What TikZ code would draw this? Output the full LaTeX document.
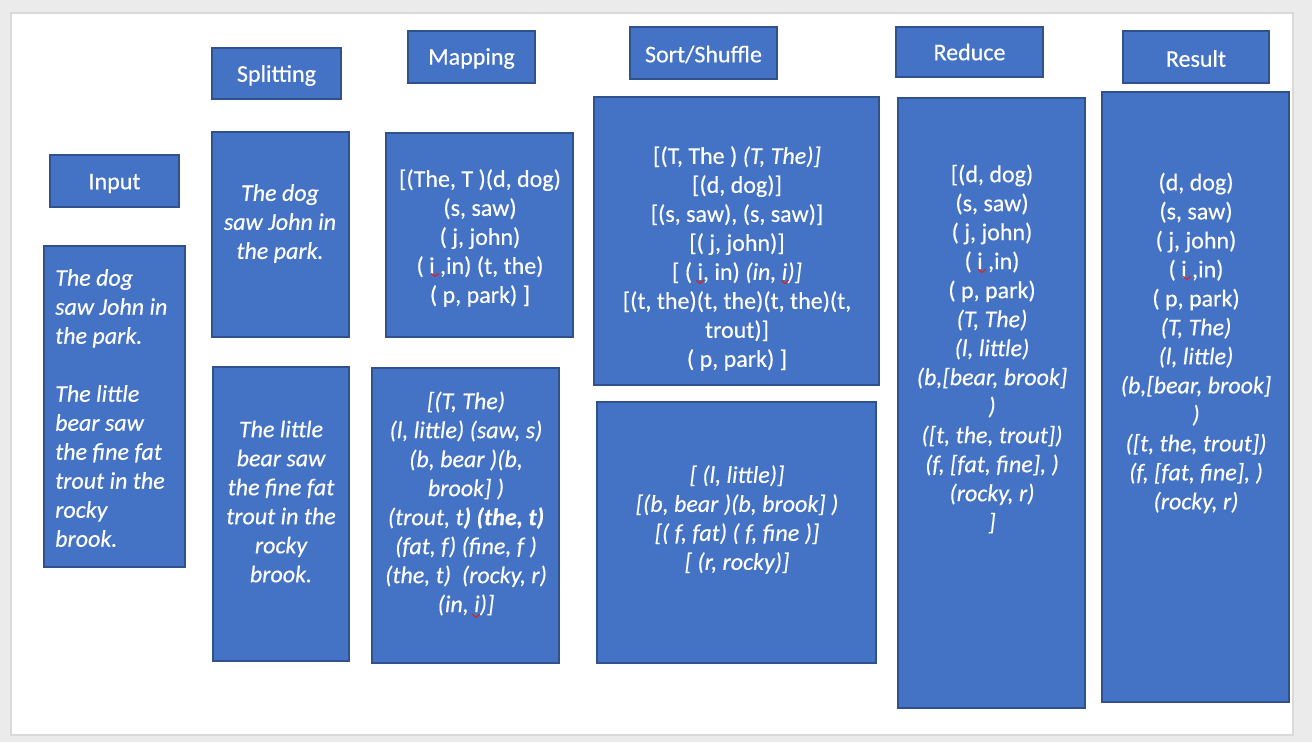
\documentclass[tikz,border=0pt]{standalone}
\usepackage{fontspec}
\setmainfont{Carlito}[FakeBold=0.35]
\definecolor{boxblue}{HTML}{4472C4}
\definecolor{boxline}{HTML}{2F528F}
\definecolor{outer}{HTML}{EBEBEB}
\definecolor{slideedge}{HTML}{D9D9D9}
\definecolor{squig}{HTML}{E0201A}
\tikzset{
  box/.style={draw=boxline, fill=boxblue, line width=1.5pt, inner sep=0pt, rectangle},
  hdr/.style={box, text=white, font=\fontsize{24}{29}\selectfont},
  txt/.style={text=white, font=\fontsize{24}{29}\selectfont, align=center, inner sep=0pt},
  itxt/.style={txt, font=\fontsize{24}{29}\selectfont\itshape},
  squiggle/.style={draw=squig, line width=1.1pt, line cap=round, line join=round}
}
\newcommand\sqmark[2]{\draw[squiggle] (#1-3.5,#2-1.5) -- (#1,#2+1.5) -- (#1+3.5,#2-1.5);}
\begin{document}
\begin{tikzpicture}[x=1pt,y=-1pt]
\useasboundingbox (0,0) rectangle (1312,742);
\fill[outer] (0,0) rectangle (1312,742);
\draw[slideedge, line width=2pt, fill=white] (11,13) rectangle (1293,735);

% headers
\node[hdr, minimum width=129pt, minimum height=52pt] (hInput) at (114.5,181) {};
\node[hdr, minimum width=129pt, minimum height=51pt] (hSplit) at (276.5,73.5) {};
\node[hdr, minimum width=127pt, minimum height=52pt] (hMap) at (471.5,57) {};
\node[hdr, minimum width=147pt, minimum height=52pt] (hSort) at (703.5,53) {};
\node[hdr, minimum width=147pt, minimum height=50pt] (hReduce) at (969.5,52) {};
\node[hdr, minimum width=146pt, minimum height=52pt] (hResult) at (1196,57) {};
\node[txt] (lInput) at (114.5,183.5) {Input};
\node[txt] (lSplit) at (276.5,75.5) {Splitting};
\node[txt] (lMap) at (471.5,58.5) {Mapping};
\node[txt] (lSort) at (703.5,54.5) {Sort/Shuffle};
\node[txt] (lReduce) at (969.5,52) {Reduce};
\node[txt] (lResult) at (1196,58.5) {Result};

% boxes
\node[box, minimum width=141pt, minimum height=321pt] (bInput) at (114.5,406.5) {};
\node[box, minimum width=137pt, minimum height=205pt] (bSplitA) at (280.5,234.5) {};
\node[box, minimum width=136pt, minimum height=294pt] (bSplitB) at (281,514) {};
\node[box, minimum width=187pt, minimum height=204pt] (bMapA) at (479.5,235) {};
\node[box, minimum width=187pt, minimum height=295pt] (bMapB) at (465.5,515.5) {};
\node[box, minimum width=285pt, minimum height=288pt] (bSortA) at (736.5,241) {};
\node[box, minimum width=279pt, minimum height=261pt] (bSortB) at (736.5,532.5) {};
\node[box, minimum width=187pt, minimum height=610pt] (bReduce) at (991.5,403) {};
\node[box, minimum width=187pt, minimum height=610pt] (bResult) at (1195.5,397) {};

% texts
\node[itxt, align=left, anchor=west] (tInput) at (55,408)
  {The dog\\saw John in\\the park.\\[29pt]The little\\bear saw\\the fine fat\\trout in the\\rocky\\brook.};
\node[itxt] (tSplitA) at (280,223.5) {The dog\\saw John in\\the park.};
\node[itxt] (tSplitB) at (281,501.5) {The little\\bear saw\\the fine fat\\trout in the\\rocky\\brook.};
\node[txt] (tMapA) at (480,238) {{[}(The, T )(d, dog)\\(s, saw)\\( j, john)\\( i ,in) (t, the)\\( p, park) ]};
\node[itxt] (tMapB) at (466,503.5) {{[}(T, The)\\(l, little) (saw, s)\\ (b, bear )(b,\\brook] )\\(trout, t\textbf{) (the, t)}\\(fat, f) (fine, f )\\(the, t)~~(rocky, r)\\(in, i)]};
\node[txt] (tSortA) at (737,258.5) {{[}(T, The ) \textit{(T, The)]}\\{[}(d, dog)]\\{[}(s, saw), (s, saw)]\\{[}( j, john)]\\{[} ( i, in) \textit{(in, i)]}\\{[}(t, the)(t, the)(t, the)(t,\\trout)]\\( p, park) ]};
\node[itxt] (tSortB) at (737,519.5) {{[} (l, little)]\\{[}(b, bear )(b, brook] )\\{[}( f, fat) ( f, fine )]\\{[} (r, rocky)]};
\node[txt] (tReduce) at (992,349) {{[}(d, dog)\\(s, saw)\\( j, john)\\( i ,in)\\( p, park)\\\textit{(T, The)}\\\textit{(l, little)}\\\textit{(b,[bear, brook]}\\\textit{)}\\\textit{([t, the, trout])}\\\textit{(f, [fat, fine], )}\\\textit{(rocky, r)}\\\textit{]}};
\node[txt] (tResult) at (1196,343) {(d, dog)\\(s, saw)\\( j, john)\\( i ,in)\\( p, park)\\\textit{(T, The)}\\\textit{(l, little)}\\\textit{(b,[bear, brook]}\\\textit{)}\\\textit{([t, the, trout])}\\\textit{(f, [fat, fine], )}\\\textit{(rocky, r)}};

% spell-check marks
\sqmark{435}{275}
\sqmark{700}{282}
\sqmark{785}{282}
\sqmark{476}{616}
\sqmark{982}{271}
\sqmark{1187}{278}
\end{tikzpicture}
\end{document}
